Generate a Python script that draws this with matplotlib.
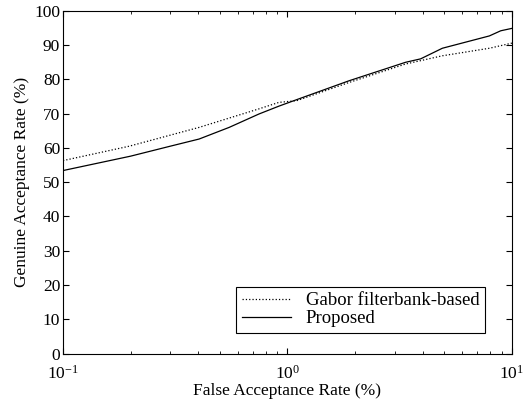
import numpy as np
import matplotlib.pyplot as plt

# ROC curves
far_prop = [0.1, 0.2, 0.3, 0.404, 0.55, 0.746, 0.916, 1.1, 1.88, 3.36, 3.92, 4.9, 7.94, 8.92, 10]
gar_prop = [53.4, 57.6, 60.5, 62.6, 66.0, 69.9, 72.2, 74.1, 79.6, 85.0, 86.0, 89.1, 92.7, 94.2, 94.9]

far_gabor = [0.1, 0.197, 0.404, 0.746, 0.916, 1.1, 1.88, 3.36, 4.9, 7.94, 10]
gar_gabor = [56.3, 60.5, 66.0, 71.4, 73.3, 73.8, 79.1, 84.5, 86.9, 89.1, 90.6]

yticks = list(range(0, 101, 10))

plt.rcParams['font.family'] = 'Liberation Serif'
plt.rcParams['font.size'] = 12.5

fig = plt.figure(figsize=(5.25, 4.04), dpi=100)
ax = fig.add_axes([0.12, 0.125, 0.855, 0.848])

ax.semilogx(far_gabor, gar_gabor, 'k:', lw=0.9, label='Gabor filterbank-based')
ax.semilogx(far_prop, gar_prop, 'k-', lw=0.9, label='Proposed')

ax.set_xlim(0.1, 10)
ax.set_ylim(0, 100)
ax.set_yticks(yticks)
ax.tick_params(which='both', direction='in', top=True, right=True)
ax.tick_params(which='major', length=4)
ax.tick_params(which='minor', length=2)
ax.tick_params(axis='x', pad=8)
ax.tick_params(axis='y', pad=2)
for s in ax.spines.values():
    s.set_linewidth(0.8)

ax.set_xlabel('False Acceptance Rate (%)', labelpad=0)
ax.set_ylabel('Genuine Acceptance Rate (%)', labelpad=3)

leg = ax.legend(loc='lower right', bbox_to_anchor=(0.94, 0.06), fancybox=False,
                edgecolor='black', framealpha=1, handlelength=2.6, borderpad=0.3,
                labelspacing=0.05, fontsize=13.5, borderaxespad=0)
leg.get_frame().set_linewidth(0.8)

plt.savefig('out.png', dpi=100)
